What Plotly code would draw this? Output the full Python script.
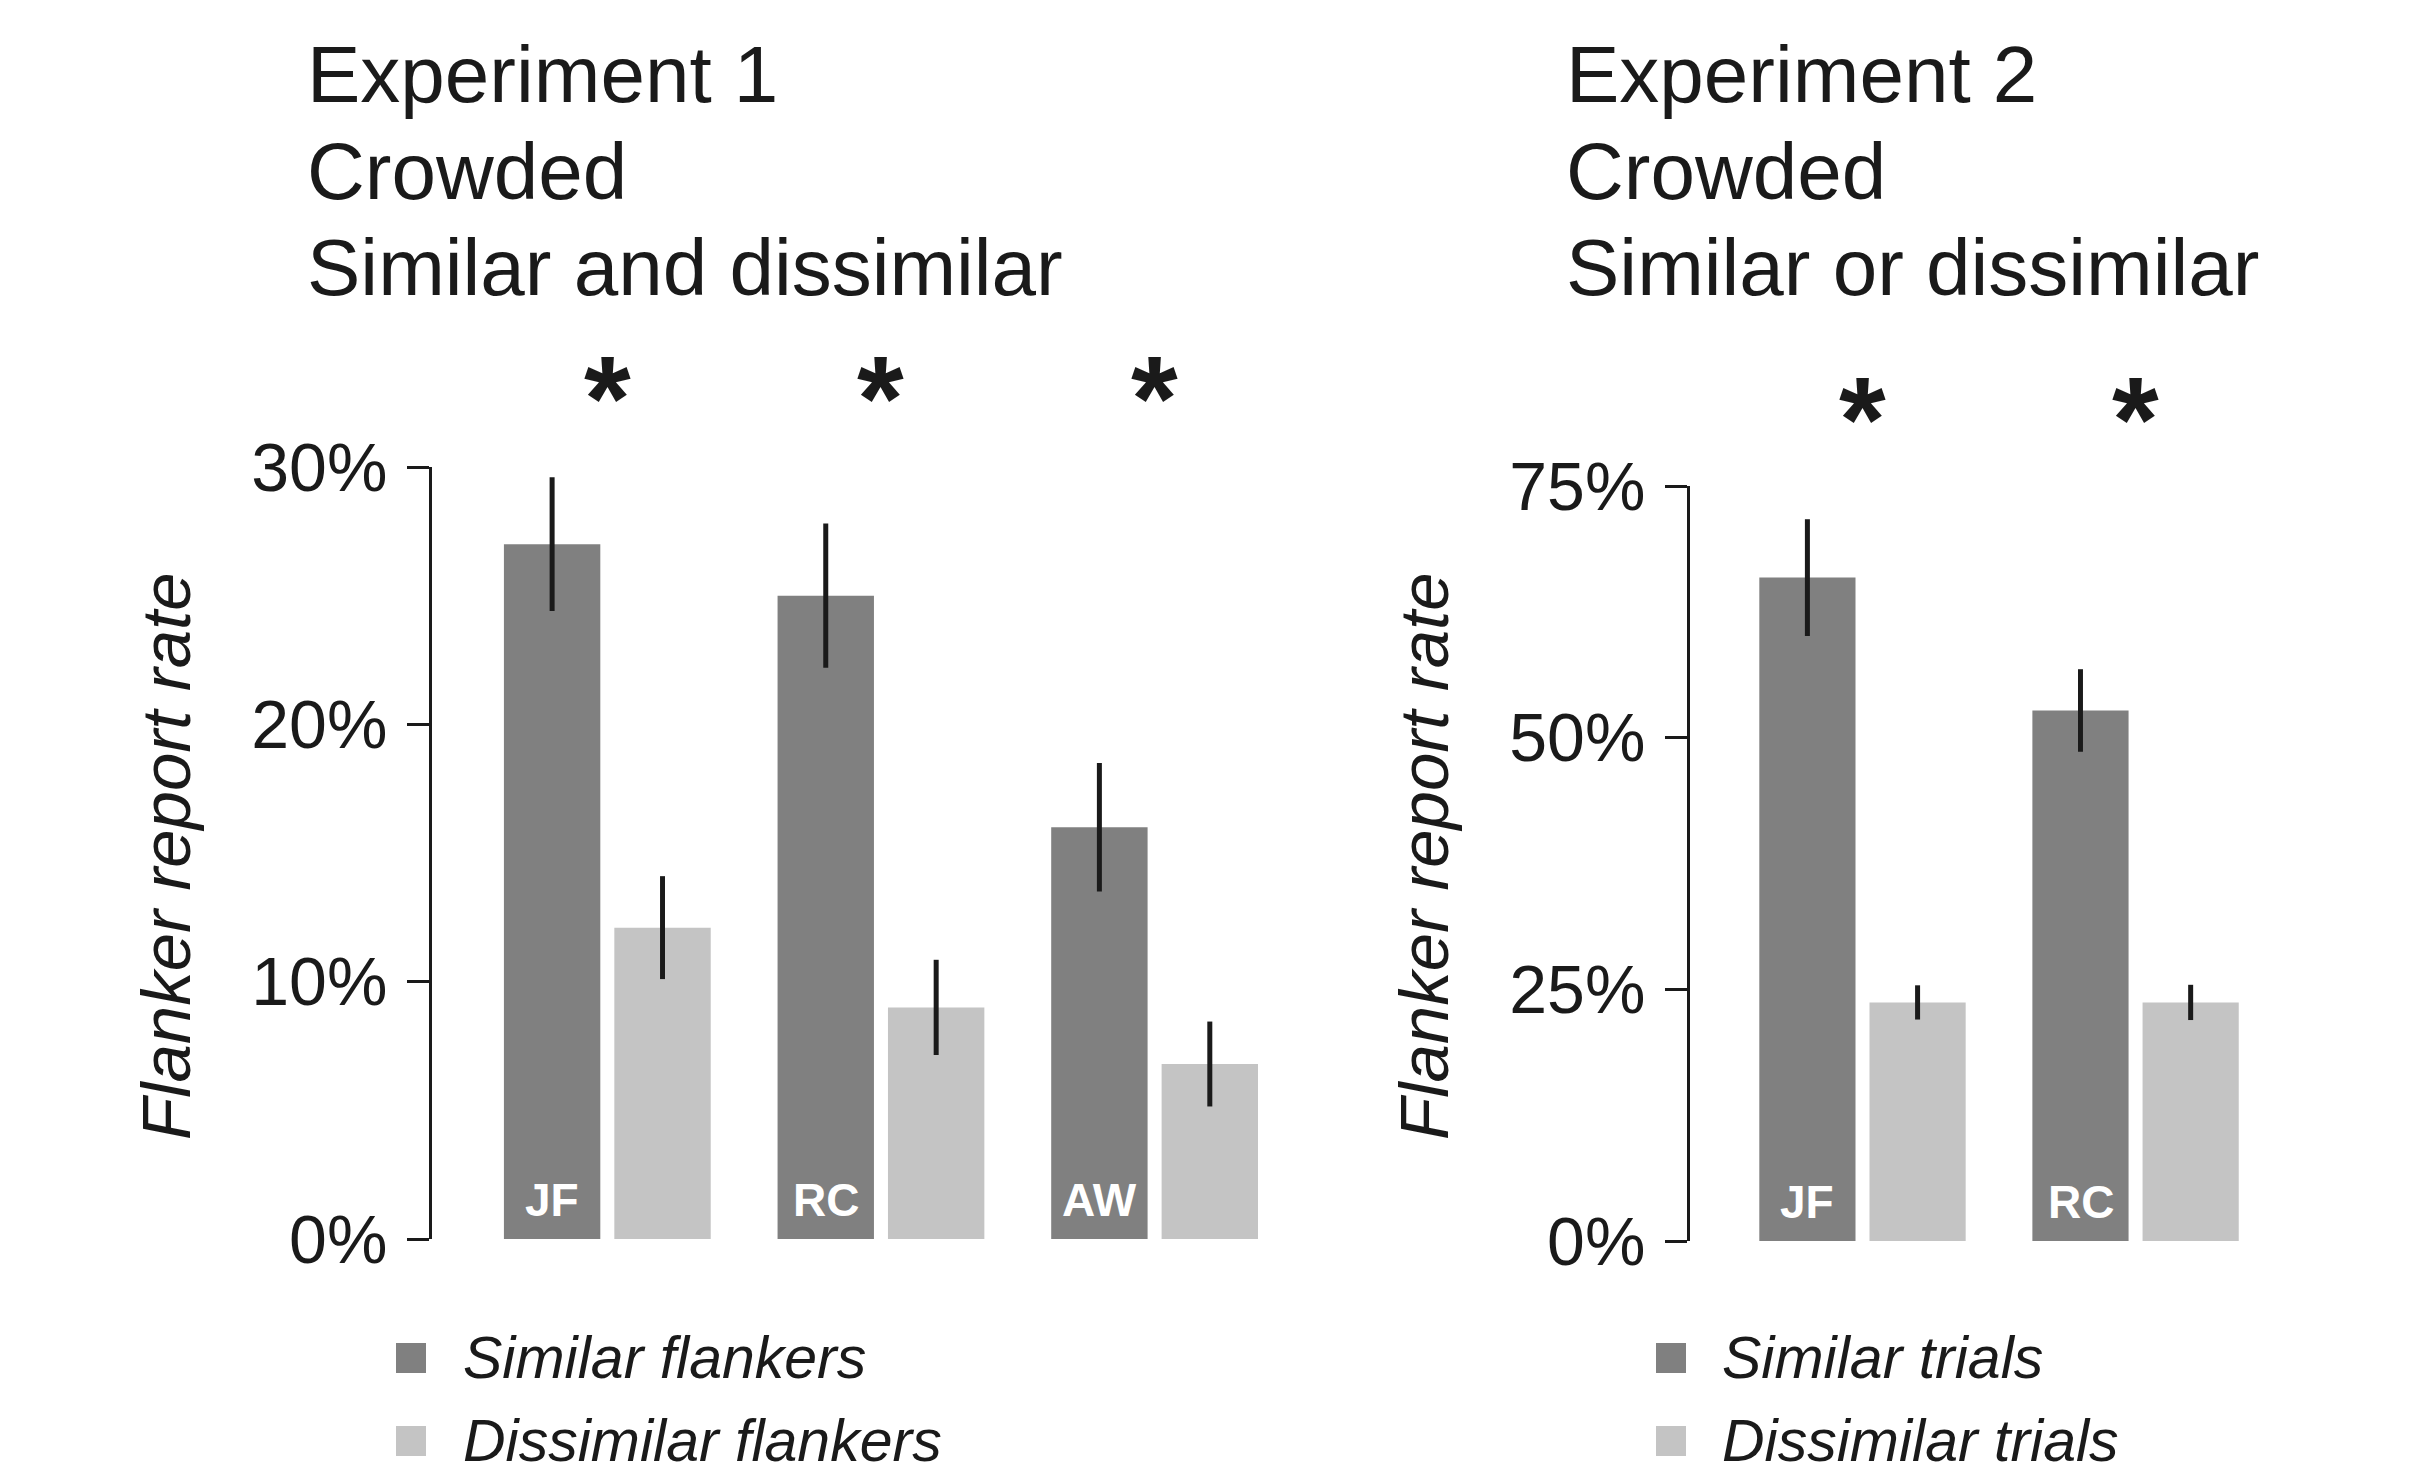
import plotly.graph_objects as go

# ---- data ----
exp1_subjects = ["JF", "RC", "AW"]
exp1_similar = [27.0, 25.0, 16.0]
exp1_similar_err = [2.6, 2.8, 2.5]
exp1_dissimilar = [12.1, 9.0, 6.8]
exp1_dissimilar_err = [2.0, 1.85, 1.65]

exp2_subjects = ["JF", "RC"]
exp2_similar = [65.9, 52.7]
exp2_similar_err = [5.8, 4.1]
exp2_dissimilar = [23.7, 23.7]
exp2_dissimilar_err = [1.7, 1.75]

exp1_ticks = [0, 10, 20, 30]
exp1_ticktext = ["0%", "10%", "20%", "30%"]
exp2_ticks = [0, 25, 50, 75]
exp2_ticktext = ["0%", "25%", "50%", "75%"]

exp1_title = ["Experiment 1", "Crowded", "Similar and dissimilar"]
exp2_title = ["Experiment 2", "Crowded", "Similar or dissimilar"]
exp1_legend = ["Similar flankers", "Dissimilar flankers"]
exp2_legend = ["Similar trials", "Dissimilar trials"]
y_title = "Flanker report rate"

# ---- style ----
W, H = 2432, 1478
DARK = "#808080"
LIGHT = "#c4c4c4"
INK = "#1a1a1a"
FONT = "Liberation Sans, Arial, Helvetica, sans-serif"


def px(x):
    return x / W


def py(y):
    return 1 - y / H


fig = go.Figure()

err_style = dict(type="data", visible=True, thickness=5, width=0, color=INK)

fig.add_trace(go.Bar(x=exp1_subjects, y=exp1_similar, marker_color=DARK,
                     error_y=dict(array=exp1_similar_err, **err_style),
                     xaxis="x", yaxis="y", showlegend=False))
fig.add_trace(go.Bar(x=exp1_subjects, y=exp1_dissimilar, marker_color=LIGHT,
                     error_y=dict(array=exp1_dissimilar_err, **err_style),
                     xaxis="x", yaxis="y", showlegend=False))
fig.add_trace(go.Bar(x=exp2_subjects, y=exp2_similar, marker_color=DARK,
                     error_y=dict(array=exp2_similar_err, **err_style),
                     xaxis="x2", yaxis="y2", showlegend=False))
fig.add_trace(go.Bar(x=exp2_subjects, y=exp2_dissimilar, marker_color=LIGHT,
                     error_y=dict(array=exp2_dissimilar_err, **err_style),
                     xaxis="x2", yaxis="y2", showlegend=False))

yaxis_common = dict(showline=True, linecolor=INK, linewidth=3, ticks="outside",
                    ticklen=22, tickwidth=3, tickcolor=INK, showgrid=False,
                    zeroline=False, automargin=False,
                    tickfont=dict(family=FONT, size=68, color=INK),
                    ticklabelstandoff=6)
xaxis_common = dict(showline=False, showticklabels=False, ticks="", showgrid=False,
                    zeroline=False, automargin=False, type="category")

fig.update_layout(
    template="none",
    width=W, height=H, autosize=False,
    margin=dict(l=0, r=0, t=0, b=0, pad=0),
    paper_bgcolor="white", plot_bgcolor="white",
    barmode="group", bargap=0.193, bargroupgap=0.127,
    xaxis=dict(domain=[px(430), px(1275)], range=[-0.648, 2.44], anchor="y", **xaxis_common),
    yaxis=dict(domain=[py(1239), py(467)], range=[0, 30], anchor="free",
               position=px(430), tickvals=exp1_ticks, ticktext=exp1_ticktext, **yaxis_common),
    xaxis2=dict(domain=[px(1688), px(2265)], range=[-0.639, 1.474], anchor="y2", **xaxis_common),
    yaxis2=dict(domain=[py(1241), py(486)], range=[0, 75], anchor="free",
                position=px(1688), tickvals=exp2_ticks, ticktext=exp2_ticktext, **yaxis_common),
)

ann = []
shapes = []

# panel titles
for lines, x0 in ((exp1_title, 305), (exp2_title, 1564)):
    for i, line in enumerate(lines):
        ann.append(dict(text=line, xref="paper", yref="paper", x=px(x0), y=py(75 + 96.5 * i),
                        xanchor="left", yanchor="middle", showarrow=False,
                        font=dict(family=FONT, size=80, color=INK)))

# significance stars
for cats, xa, ypos in ((exp1_subjects, "x", 372), (exp2_subjects, "x2", 393)):
    for c in cats:
        ann.append(dict(text="<b>*</b>", xref=xa, yref="paper", x=c, y=py(ypos),
                        yshift=-26, xanchor="center", yanchor="middle", showarrow=False,
                        font=dict(family=FONT, size=120, color=INK)))

# subject labels at the base of the similar bars
for cats, xa, ya in ((exp1_subjects, "x", "y"), (exp2_subjects, "x2", "y2")):
    for c in cats:
        ann.append(dict(text="<b>%s</b>" % c, xref=xa, yref=ya, x=c, y=0,
                        xshift=-55, yshift=11, xanchor="center", yanchor="bottom",
                        showarrow=False, font=dict(family=FONT, size=46, color="white")))

# y-axis titles
for xc in (166, 1424):
    ann.append(dict(text="<i>%s</i>" % y_title, xref="paper", yref="paper",
                    x=px(xc), y=py(856), textangle=-90, xanchor="center", yanchor="middle",
                    showarrow=False, font=dict(family=FONT, size=69, color=INK)))

# legends
for labels, xs, xt in ((exp1_legend, 411, 461), (exp2_legend, 1671, 1720)):
    for label, color, yc in zip(labels, (DARK, LIGHT), (1358, 1441)):
        shapes.append(dict(type="rect", xref="paper", yref="paper",
                           x0=px(xs - 15), x1=px(xs + 15), y0=py(yc + 15), y1=py(yc - 15),
                           fillcolor=color, line=dict(width=0)))
        ann.append(dict(text="<i>%s</i>" % label, xref="paper", yref="paper",
                        x=px(xt), y=py(yc), xanchor="left", yanchor="middle",
                        showarrow=False, font=dict(family=FONT, size=59, color=INK)))

fig.update_layout(annotations=ann, shapes=shapes)
fig.write_html("out.html")
